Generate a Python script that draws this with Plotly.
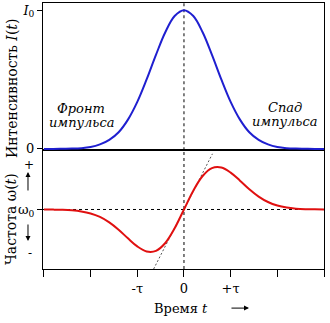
import plotly.graph_objects as go

# time in units of tau
t = [-3.0, -2.8, -2.6, -2.4, -2.2, -2.0, -1.8, -1.6, -1.4, -1.2, -1.0, -0.8, -0.6, -0.4, -0.2,
     0.0, 0.2, 0.4, 0.6, 0.8, 1.0, 1.2, 1.4, 1.6, 1.8, 2.0, 2.2, 2.4, 2.6, 2.8, 3.0]
# intensity I(t)/I0
intensity = [0.000, 0.000, 0.001, 0.002, 0.005, 0.013, 0.032, 0.065, 0.120, 0.211, 0.339, 0.501, 0.678, 0.841, 0.958,
             1.000, 0.958, 0.841, 0.678, 0.501, 0.339, 0.211, 0.120, 0.065, 0.032, 0.013, 0.005, 0.002, 0.001, 0.000, 0.000]
# frequency offset omega(t) - omega0 (arbitrary units)
freq = [-0.001, -0.003, -0.008, -0.020, -0.045, -0.093, -0.176, -0.304, -0.477, -0.679, -0.869, -0.987, -0.973, -0.788, -0.443,
        0.000, 0.443, 0.788, 0.973, 0.987, 0.869, 0.679, 0.477, 0.304, 0.176, 0.093, 0.045, 0.020, 0.008, 0.003, 0.001]
# tangent line at t = 0
tangent_t = [-0.65, 0.61]
tangent_w = [-1.40, 1.31]

x_tickvals = [-3, -2, -1, 0, 1, 2, 3]
x_ticktext = ["", "", "-τ", "0", "+τ", "", ""]

FONT = "DejaVu Serif"
BLUE = "#1f1fd0"
RED = "#e01010"

fig = go.Figure()
fig.add_trace(go.Scatter(x=[0, 0], y=[-0.01, 1.05], mode="lines", line=dict(color="black", width=1, dash="3px,3px"),
                         xaxis="x2", yaxis="y2", showlegend=False))
fig.add_trace(go.Scatter(x=t, y=intensity, mode="lines", line=dict(color=BLUE, width=2, shape="spline"),
                         xaxis="x2", yaxis="y2", showlegend=False))
fig.add_trace(go.Scatter(x=[-3.02, 3.0], y=[0, 0], mode="lines", line=dict(color="black", width=1, dash="3px,3px"),
                         xaxis="x", yaxis="y", showlegend=False))
fig.add_trace(go.Scatter(x=[0, 0], y=[-1.4, 1.4], mode="lines", line=dict(color="black", width=1, dash="3px,3px"),
                         xaxis="x", yaxis="y", showlegend=False))
fig.add_trace(go.Scatter(x=tangent_t, y=tangent_w, mode="lines", line=dict(color="#555555", width=1, dash="2px,2px"),
                         xaxis="x", yaxis="y", showlegend=False))
fig.add_trace(go.Scatter(x=t, y=freq, mode="lines", line=dict(color=RED, width=2, shape="spline"),
                         xaxis="x", yaxis="y", showlegend=False))

split = 0.4474
axis_common = dict(showline=True, linecolor="black", linewidth=1, mirror=True, showgrid=False, zeroline=False,
                   tickfont=dict(family=FONT, size=13, color="black"))

fig.update_layout(
    width=330, height=323,
    margin=dict(l=43, r=6, t=3, b=54),
    paper_bgcolor="white", plot_bgcolor="white",
    xaxis=dict(range=[-3.02, 3.0], tickvals=x_tickvals, ticktext=x_ticktext, ticks="outside", ticklen=7,
               tickcolor="black", anchor="y", **axis_common),
    xaxis2=dict(range=[-3.02, 3.0], matches="x", showticklabels=False, anchor="y2", **axis_common),
    yaxis=dict(range=[-1.4, 1.4], domain=[0, split], tickvals=[0], ticktext=["ω<sub>0</sub>"], ticks="outside",
               ticklen=5, tickcolor="black", anchor="x", **axis_common),
    yaxis2=dict(range=[-0.008, 1.052], domain=[split, 1], tickvals=[0, 1], ticktext=["0", "<i>I</i><sub>0</sub>"],
                ticks="outside", ticklen=5, tickcolor="black", anchor="x2", **axis_common),
    font=dict(family=FONT, size=13, color="black"),
)

ann = []
def text(x, y, s, size=13, angle=0, xref="paper", yref="paper", italic=False):
    if italic:
        s = "<i>" + s + "</i>"
    ann.append(dict(x=x, y=y, xref=xref, yref=yref, text=s, showarrow=False, textangle=angle,
                    font=dict(family=FONT, size=size, color="black"), xanchor="center", yanchor="middle"))

text(-0.1103, 0.6767, "Интенсивность <i>I</i>(<i>t</i>)", size=14, angle=-90)
text(-0.1139, 0.188, "Частота ω(<i>t</i>)", size=14, angle=-90)
text(-0.0498, 0.391, "+", size=12)
text(-0.0463, 0.0602, "-", size=12)
text(0.491, -0.147, "Время <i>t</i>", size=13)
text(-2.2, 0.292, "Фронт", size=13, xref="x2", yref="y2", italic=True)
text(-2.2, 0.19, "импульса", size=13, xref="x2", yref="y2", italic=True)
text(2.16, 0.302, "Спад", size=13, xref="x2", yref="y2", italic=True)
text(2.16, 0.20, "импульса", size=13, xref="x2", yref="y2", italic=True)

for (x, y, ax, ay) in [(-0.0534, 0.3647, 0, 20), (-0.0534, 0.1053, 0, -18), (0.733, -0.147, -19, 0)]:
    ann.append(dict(x=x, y=y, xref="paper", yref="paper", text="", showarrow=True, ax=ax, ay=ay,
                    arrowhead=2, arrowsize=1, arrowwidth=1, arrowcolor="black"))

fig.update_layout(annotations=ann)
fig.write_html("out.html")
